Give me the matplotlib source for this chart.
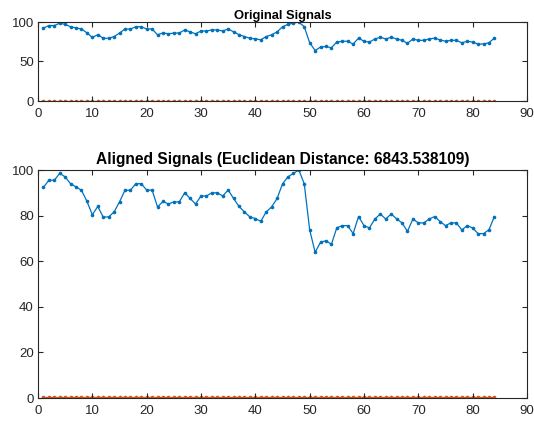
#!/usr/bin/env python3
"""Original vs aligned signals, two stacked panels in MATLAB style."""

import matplotlib

matplotlib.use("Agg")
import matplotlib.pyplot as plt

# signal values, samples 1..84
signal_a = [
    92.4, 95.5, 95.5, 98.5, 97.0, 93.9, 92.6, 91.1, 86.3, 80.4,
    84.0, 79.4, 79.4, 81.6, 86.0, 91.1, 91.1, 94.0, 94.0, 91.2,
    91.2, 83.8, 86.2, 85.1, 86.0, 86.0, 90.0, 87.5, 85.1, 88.6,
    88.6, 90.0, 90.0, 88.6, 91.2, 87.5, 84.0, 81.6, 79.4, 78.7,
    77.5, 81.6, 83.8, 87.5, 93.9, 97.0, 98.5, 100.0, 94.0, 73.8,
    63.9, 68.3, 69.0, 67.4, 74.7, 75.6, 75.6, 72.1, 79.6, 75.6,
    74.6, 78.5, 80.7, 78.5, 80.7, 78.6, 76.8, 73.1, 78.5, 76.8,
    76.8, 78.5, 79.6, 77.4, 75.6, 76.8, 76.8, 73.7, 75.6, 74.6,
    72.1, 72.1, 73.8, 79.6,
]
signal_b = [
    0.4, 0.4, 0.4, 0.4, 0.4, 0.4, 0.4, 0.4, 0.4, 0.4,
    0.4, 0.4, 0.4, 0.4, 0.4, 0.4, 0.4, 0.4, 0.4, 0.4,
    0.4, 0.4, 0.4, 0.4, 0.4, 0.4, 0.4, 0.4, 0.4, 0.4,
    0.4, 0.4, 0.4, 0.4, 0.4, 0.4, 0.4, 0.4, 0.4, 0.4,
    0.4, 0.4, 0.4, 0.4, 0.4, 0.4, 0.4, 0.4, 0.4, 0.4,
    0.4, 0.4, 0.4, 0.4, 0.4, 0.4, 0.4, 0.4, 0.4, 0.4,
    0.4, 0.4, 0.4, 0.4, 0.4, 0.4, 0.4, 0.4, 0.4, 0.4,
    0.4, 0.4, 0.4, 0.4, 0.4, 0.4, 0.4, 0.4, 0.4, 0.4,
    0.4, 0.4, 0.4, 0.4,
]
samples = list(range(1, len(signal_a) + 1))

titles = ["Original Signals", "Aligned Signals (Euclidean Distance: 6843.538109)"]
top_yticks = [0, 50, 100]
bottom_yticks = [0, 20, 40, 60, 80, 100]
xticks = [0, 10, 20, 30, 40, 50, 60, 70, 80, 90]

BLUE = "#0072BD"
ORANGE = "#D95319"
INK = "#262626"

plt.rcParams["font.family"] = ["Liberation Sans", "DejaVu Sans"]


def style_axes(ax, yticks):
    ax.set_xlim(0, 90)
    ax.set_ylim(0, 100)
    ax.set_xticks(xticks)
    ax.set_yticks(yticks)
    ax.tick_params(direction="in", length=3.5, width=0.8, colors=INK,
                   labelsize=9.5, top=True, right=True)
    ax.tick_params(axis="x", pad=5)
    ax.tick_params(axis="y", pad=3)
    for spine in ax.spines.values():
        spine.set_color(INK)
        spine.set_linewidth(0.8)


def draw(ax):
    ax.plot(samples, signal_a, color=BLUE, marker=".", markersize=3.2,
            linewidth=0.9)
    ax.plot(samples, signal_b, color=ORANGE, marker=".", markersize=3.2,
            linewidth=0.9, zorder=1)


fig = plt.figure(figsize=(5.34, 4.23), dpi=100)
W, H = 534.0, 423.0

ax_top = fig.add_axes([38 / W, 1 - 101 / H, 489 / W, 79 / H])
draw(ax_top)
style_axes(ax_top, top_yticks)
ax_top.set_title(titles[0], fontsize=9.3, fontweight="bold", color="black", pad=2)

ax_bot = fig.add_axes([38 / W, 1 - 398 / H, 489 / W, 228 / H])
draw(ax_bot)
style_axes(ax_bot, bottom_yticks)
ax_bot.set_title(titles[1], fontsize=11.2, fontweight="bold", color="black", pad=4)

fig.savefig("out.png", dpi=100)
plt.close(fig)
